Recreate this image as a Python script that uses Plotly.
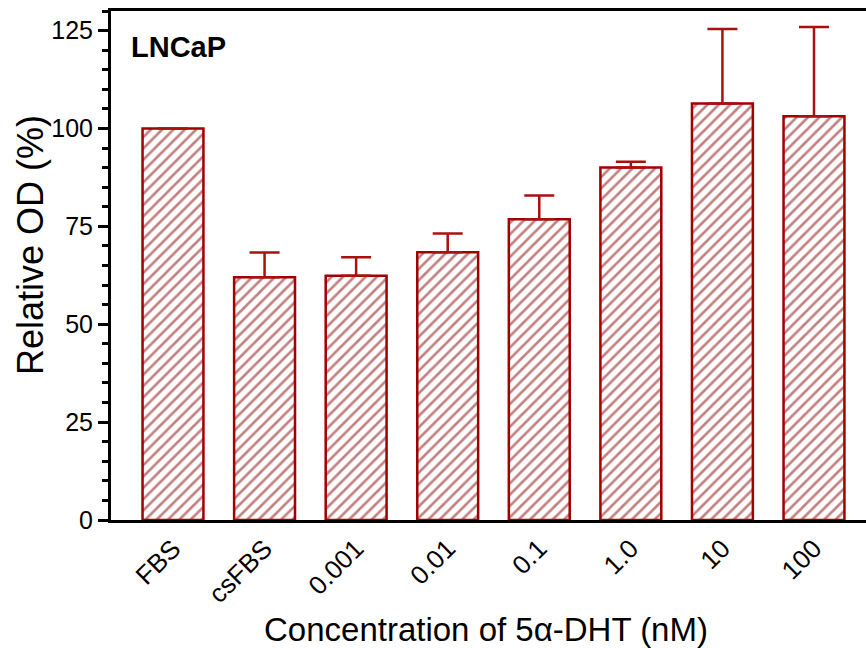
import plotly.graph_objects as go

categories = ["FBS", "csFBS", "0.001", "0.01", "0.1", "1.0", "10", "100"]
values = [100.0, 62.0, 62.4, 68.4, 76.8, 90.0, 106.4, 103.1]
errors = [0.0, 6.3, 4.7, 4.8, 6.1, 1.5, 19.0, 22.8]
y_ticks = [0, 25, 50, 75, 100, 125]

RED = "#A00000"
FONT = "Liberation Sans, Arial, sans-serif"

fig = go.Figure()
fig.add_trace(go.Bar(
    x=categories,
    y=values,
    width=0.665,
    marker=dict(
        color="white",
        line=dict(color=RED, width=2.5),
        pattern=dict(shape="/", fgcolor="#8A0000", bgcolor="white", size=8, solidity=0.33),
    ),
    error_y=dict(
        type="data",
        symmetric=False,
        array=errors,
        arrayminus=[0] * len(errors),
        color="#AA1010",
        thickness=2.5,
        width=15,
        visible=True,
    ),
    showlegend=False,
))

W, H = 866, 648
L, R, T, B = 111, 0, 11, 128
pw, ph = W - L - R, H - T - B


def px(x):
    return (x - L) / pw


def py(y):
    return (H - B - y) / ph


fig.update_layout(
    width=W,
    height=H,
    margin=dict(l=L, r=R, t=T, b=B),
    paper_bgcolor="white",
    plot_bgcolor="white",
    font=dict(family=FONT, color="black"),
    xaxis=dict(
        type="category",
        range=[-0.677, 7.568],
        showline=True,
        linecolor="black",
        linewidth=3,
        mirror=True,
        ticks="",
        tickangle=-45,
        tickfont=dict(size=26, family=FONT, color="black"),
        showgrid=False,
        zeroline=False,
    ),
    yaxis=dict(
        range=[0, 130],
        tickvals=y_ticks,
        ticktext=[str(v) for v in y_ticks],
        showline=True,
        linecolor="black",
        linewidth=3,
        ticks="outside",
        ticklen=10,
        tickwidth=3,
        tickcolor="black",
        tickfont=dict(size=25, family=FONT, color="black"),
        showgrid=False,
        zeroline=False,
        minor=dict(dtick=5, tick0=0, ticks="outside", ticklen=6, tickwidth=3,
                   tickcolor="black", showgrid=False),
    ),
)

fig.add_annotation(text="<b>LNCaP</b>", x=px(129), y=py(47), xref="paper", yref="paper",
                   showarrow=False, font=dict(size=29, family=FONT, color="black"),
                   xanchor="left", yanchor="middle")
fig.add_annotation(text="Relative OD (%)", x=px(30), y=py(245), xref="paper", yref="paper",
                   showarrow=False, textangle=-90, font=dict(size=36, family=FONT, color="black"),
                   xanchor="center", yanchor="middle")
fig.add_annotation(text="Concentration of 5α-DHT (nM)", x=px(486), y=py(629), xref="paper", yref="paper",
                   showarrow=False, font=dict(size=33, family=FONT, color="black"),
                   xanchor="center", yanchor="middle")

fig.write_html("out.html")
